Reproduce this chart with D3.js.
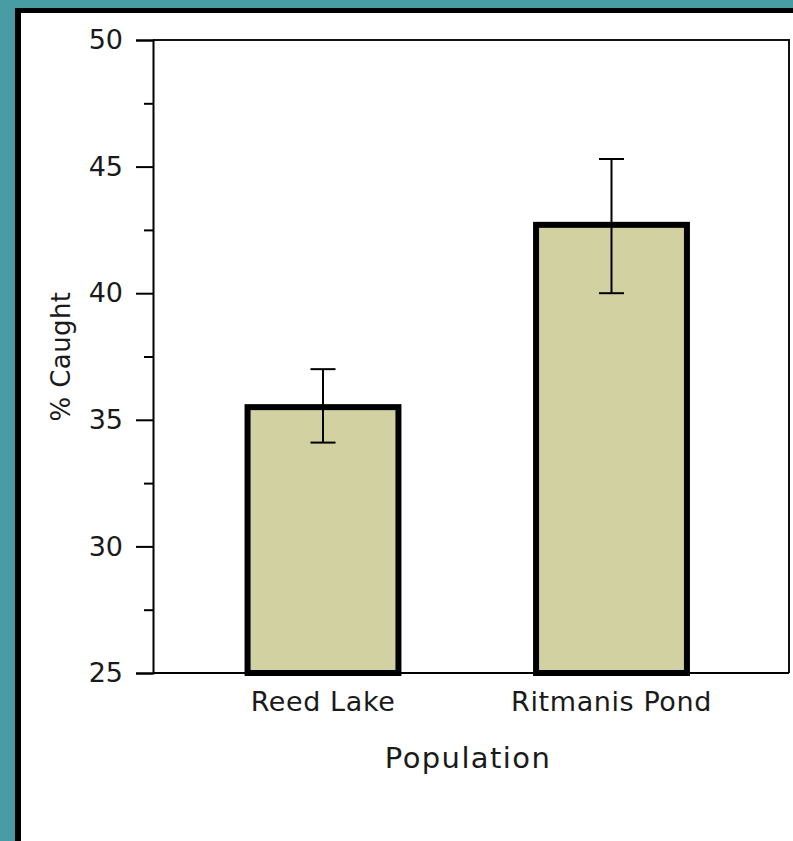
<!DOCTYPE html>
<html>
<head>
    <style>
        body {
            margin: 0;
            background-color: #489ca3;
            font-family: "DejaVu Sans", "Open Sans", sans-serif;
            overflow: hidden;
        }
        .panel {
            position: absolute;
            left: 15px;
            top: 8px;
            width: 800px;
            height: 850px;
            background: #fff;
            border-left: 6px solid #000;
            border-top: 5px solid #000;
        }
        svg {
            position: absolute;
            left: 0;
            top: 0;
        }
        .tick text {
            font-family: "DejaVu Sans", "Open Sans", sans-serif;
            fill: #1a1a1a;
        }
        .y-axis .tick text { font-size: 27px; }
        .x-axis .tick text { font-size: 27px; letter-spacing: 0.6px; }
    </style>
</head>
<body>
    <div class="panel"></div>
    <svg id="chart" width="793" height="841"></svg>

    <script src="https://d3js.org/d3.v7.min.js"></script>
    <script>
        // data
        var populations = ["Reed Lake", "Ritmanis Pond"];
        var meanCaught = [35.5, 42.7];
        var errLow = [34.1, 40.0];
        var errHigh = [37.0, 45.3];
        var yTicks = [25, 30, 35, 40, 45, 50];
        var yMinorTicks = [27.5, 32.5, 37.5, 42.5, 47.5];

        var svg = d3.select("#chart");

        var plotLeft = 153, plotRight = 789, plotTop = 40, plotBottom = 673;

        var y = d3.scaleLinear().domain([25, 50]).range([plotBottom, plotTop]);
        var x = d3.scaleBand()
            .domain(populations)
            .range([178.75, 755.75])
            .paddingInner(0.477)
            .paddingOuter(0.2385);

        // frame lines top + right
        svg.append("path")
            .attr("d", "M" + plotLeft + "," + plotTop + "H" + plotRight + "V" + plotBottom)
            .attr("fill", "none")
            .attr("stroke", "#111")
            .attr("stroke-width", 2);

        // bars
        svg.selectAll("rect.bar")
            .data(populations)
            .enter().append("rect")
            .attr("class", "bar")
            .attr("x", function(d) { return x(d); })
            .attr("width", x.bandwidth())
            .attr("y", function(d, i) { return y(meanCaught[i]); })
            .attr("height", function(d, i) { return plotBottom - y(meanCaught[i]); })
            .attr("fill", "#d1d1a1")
            .attr("stroke", "#000")
            .attr("stroke-width", 6);

        // error bars
        var eb = svg.selectAll("g.err")
            .data(populations)
            .enter().append("g")
            .attr("class", "err")
            .attr("transform", function(d) { return "translate(" + (x(d) + x.bandwidth() / 2) + ",0)"; });

        eb.append("line")
            .attr("y1", function(d, i) { return y(errLow[i]); })
            .attr("y2", function(d, i) { return y(errHigh[i]); })
            .attr("stroke", "#000").attr("stroke-width", 2);
        eb.append("line")
            .attr("x1", -12.5).attr("x2", 12.5)
            .attr("y1", function(d, i) { return y(errLow[i]); })
            .attr("y2", function(d, i) { return y(errLow[i]); })
            .attr("stroke", "#000").attr("stroke-width", 2);
        eb.append("line")
            .attr("x1", -12.5).attr("x2", 12.5)
            .attr("y1", function(d, i) { return y(errHigh[i]); })
            .attr("y2", function(d, i) { return y(errHigh[i]); })
            .attr("stroke", "#000").attr("stroke-width", 2);

        // y axis
        var yAxis = svg.append("g")
            .attr("class", "y-axis")
            .attr("transform", "translate(" + plotLeft + ",0)")
            .call(d3.axisLeft(y).tickValues(yTicks).tickSize(17).tickPadding(13));
        yAxis.select(".domain").attr("stroke", "#000").attr("stroke-width", 2);
        yAxis.selectAll(".tick line").attr("stroke", "#000").attr("stroke-width", 2);

        svg.append("g")
            .attr("transform", "translate(" + plotLeft + ",0)")
            .call(d3.axisLeft(y).tickValues(yMinorTicks).tickSize(9).tickFormat(""))
            .call(function(g) {
                g.select(".domain").remove();
                g.selectAll(".tick line").attr("stroke", "#000").attr("stroke-width", 2);
            });

        // x axis
        var xAxis = svg.append("g")
            .attr("class", "x-axis")
            .attr("transform", "translate(0," + plotBottom + ")")
            .call(d3.axisBottom(x).tickSize(0).tickPadding(19));
        xAxis.select(".domain").attr("d", "M" + plotLeft + ",0H" + plotRight)
            .attr("stroke", "#000").attr("stroke-width", 2);

        // axis titles
        svg.append("text")
            .attr("transform", "translate(70,356.5) rotate(-90)")
            .attr("text-anchor", "middle")
            .attr("font-size", 26)
            .attr("letter-spacing", 0.4)
            .attr("fill", "#1a1a1a")
            .text("% Caught");

        svg.append("text")
            .attr("x", 468)
            .attr("y", 768)
            .attr("text-anchor", "middle")
            .attr("font-size", 29)
            .attr("letter-spacing", 1.4)
            .attr("fill", "#1a1a1a")
            .text("Population");
    </script>
</body>
</html>
